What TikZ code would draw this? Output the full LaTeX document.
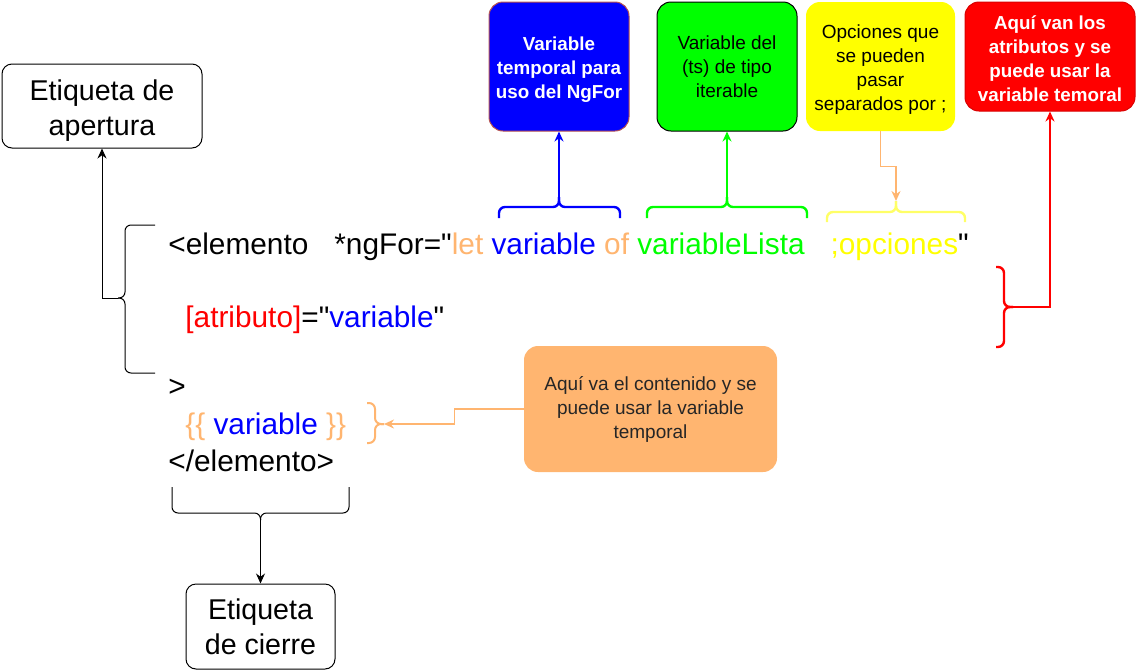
\documentclass[tikz,border=0pt]{standalone}
\usepackage{fontspec}
\setmainfont{Liberation Sans}[Ligatures=TeXOff]
\usetikzlibrary{
  arrows.meta,
}
\definecolor{ngblue}{HTML}{0000FF}
\definecolor{nggreen}{HTML}{00FF00}
\definecolor{ngyellow}{HTML}{FFFF00}
\definecolor{ngpaleyellow}{HTML}{FFFF66}
\definecolor{ngred}{HTML}{FF0000}
\definecolor{ngorange}{HTML}{FFB570}
\definecolor{ngbrown}{HTML}{B85450}
\tikzset{
  etiqueta/.style={draw=black, line width=0.5pt, rounded corners=5pt, align=center, inner sep=0pt, font=\fontsize{14.3pt}{17.5pt}\selectfont},
  nota/.style={rounded corners=7pt, align=center, inner sep=0pt, font=\fontsize{9.5pt}{12pt}\selectfont},
  notabf/.style={nota, font=\fontsize{9.4pt}{12pt}\selectfont\bfseries},
  codigo/.style={anchor=base west, inner sep=0pt, font=\fontsize{14.9pt}{18pt}\selectfont},
  llave/.style={rounded corners=3pt, line width=1.2pt},
  flecha/.style={-{Stealth[length=5pt,width=4.5pt]}, line width=0.75pt},
}

\begin{document}
\begin{tikzpicture}[x=0.5pt, y=-0.5pt]
\useasboundingbox (0,0) rectangle (1136,670);

\node[etiqueta, minimum width=100pt, minimum height=42pt] (apertura) at (102,106) {\rule{0pt}{15.2pt}Etiqueta de\\apertura};
\node[etiqueta, minimum width=74.5pt, minimum height=42.5pt] (cierre) at (260.5,626.5) {Etiqueta\\de cierre};

\node[notabf, fill=ngblue, draw=ngbrown, line width=0.5pt, text=white, minimum width=70pt, minimum height=64.5pt] (temporal) at (559,66.5) {\rule{0pt}{9.9pt}Variable\\temporal para\\uso del NgFor};
\node[nota, fill=nggreen, draw=black, line width=0.5pt, minimum width=70pt, minimum height=64.5pt] (iterable) at (727,66.5) {Variable del\\(ts) de tipo\\iterable};
\node[nota, fill=ngyellow, minimum width=74.5pt, minimum height=64.5pt] (opciones) at (880.5,66.5) {\rule{0pt}{9.9pt}Opciones que\\se pueden\\pasar\\separados por ;};
\node[notabf, fill=ngred, draw=ngred!85!black, line width=0.5pt, text=white, minimum width=85pt, minimum height=54.5pt] (atributos) at (1050,56.5) {\rule{0pt}{9.5pt}Aquí van los\\atributos y se\\puede usar la\\variable temoral};
\node[nota, fill=ngorange, minimum width=126.5pt, minimum height=63pt, text=black!85] (contenido) at (650.5,409) {Aquí va el contenido y se\\puede usar la variable\\temporal};

\node[codigo] (linea1) at (168,254) {<elemento\hspace{13pt}*ngFor="\textcolor{ngorange}{let} \textcolor{ngblue}{variable} \textcolor{ngorange}{of} \textcolor{nggreen}{variableLista}\hspace{13pt}\textcolor{ngyellow}{;opciones}"};
\node[codigo] (linea2) at (185,327) {\textcolor{ngred}{[atributo]}="\textcolor{ngblue}{variable}"};
\node[codigo] (linea3) at (168,396) {>};
\node[codigo] (linea4) at (185,434) {\textcolor{ngorange}{\{\{} \textcolor{ngblue}{variable} \textcolor{ngorange}{\}\}}};
\node[codigo] (linea5) at (168,471) {</elemento>};

\coordinate (puntaapertura) at (118,298);
\coordinate (puntatemporal) at (559,197);
\coordinate (puntaiterable) at (727,197);
\coordinate (puntaopciones) at (896,201);
\coordinate (puntaatributos) at (1013,307);
\coordinate (puntacontenido) at (384,424);
\coordinate (puntacierre) at (260.5,520);

\draw[llave, line width=0.5pt] (155,225) -- (125,225) -- (125,298) -- (puntaapertura);
\draw[llave, line width=0.5pt] (155,373) -- (125,373) -- (125,298) -- (puntaapertura);
\draw[llave, ngblue] (499,218) -- (499,207) -- (559,207) -- (puntatemporal);
\draw[llave, ngblue] (620,218) -- (620,207) -- (559,207) -- (puntatemporal);
\draw[llave, nggreen] (647,218) -- (647,207) -- (727,207) -- (puntaiterable);
\draw[llave, nggreen] (807,218) -- (807,207) -- (727,207) -- (puntaiterable);
\draw[llave, ngpaleyellow] (827,222) -- (827,212) -- (896,212) -- (puntaopciones);
\draw[llave, ngpaleyellow] (965,222) -- (965,212) -- (896,212) -- (puntaopciones);
\draw[llave, ngred] (996,267) -- (1004,267) -- (1004,307) -- (puntaatributos);
\draw[llave, ngred] (996,347) -- (1004,347) -- (1004,307) -- (puntaatributos);
\draw[llave, ngorange, line width=1pt] (367,403) -- (375,403) -- (375,424) -- (puntacontenido);
\draw[llave, ngorange, line width=1pt] (367,443) -- (375,443) -- (375,424) -- (puntacontenido);
\draw[llave, line width=0.5pt] (172,487) -- (172,513) -- (260.5,513) -- (puntacierre);
\draw[llave, line width=0.5pt] (349,487) -- (349,513) -- (260.5,513) -- (puntacierre);

\draw[flecha, line width=0.5pt] (puntaapertura) -| (apertura.south);
\draw[flecha, ngblue] (puntatemporal) -- (temporal.south);
\draw[flecha, nggreen] (puntaiterable) -- (iterable.south);
\draw[flecha, ngorange] (opciones.south) -- ++(0,35) -| (puntaopciones);
\draw[flecha, ngred] (puntaatributos) -| (atributos.south);
\draw[flecha, ngorange] (contenido.west) -- ++(-69,0) |- (puntacontenido);
\draw[flecha, line width=0.5pt] (puntacierre) -- (cierre.north);
\end{tikzpicture}
\end{document}
